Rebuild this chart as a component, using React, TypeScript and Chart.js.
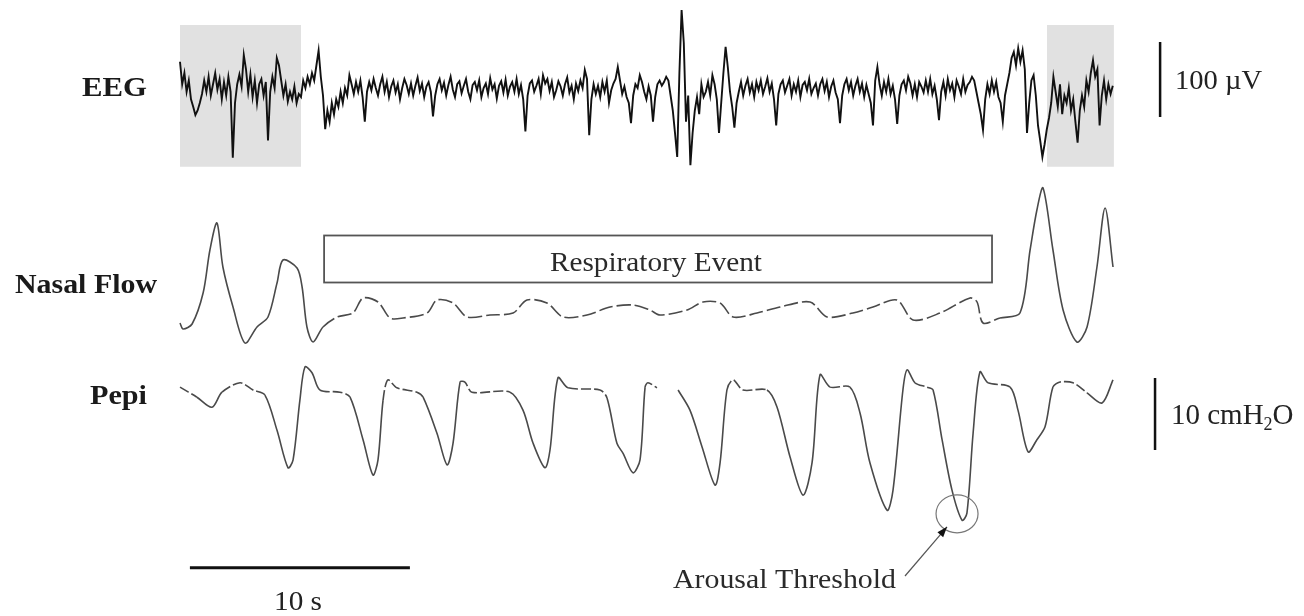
import React, { useEffect, useRef } from "react";
import { Chart, registerables } from "chart.js";

Chart.register(...registerables);

// ---------- DATA ----------
// EEG (µV), sampled every eegStep seconds from t = eegStart
const eegStart = 0;
const eegStep = 0.1;
const eegUV = [
  35, 5, 20, -5, 10, -15, -25, -36, -30, -20,
  -8, 10, -5, 15, -10, 5, 20, -2, 12, -15,
  8, -10, 15, -5, -93, -20, 5, 18, 2, 44,
  25, -5, 18, -12, 10, -20, 5, 12, -10, 8,
  -70, -5, 15, 0, 40, 30, 10, -10, 5, -18,
  -5, -15, 2, -20, -8, -12, 10, 0, 15, 5,
  20, 10, 30, 50, 15, -10, -55, -30, -45, -20,
  -35, -15, -25, -5, -20, 0, -10, 17, 5, -8,
  8, -5, 10, -12, -45, -5, 8, -3, 12, 0,
  -10, 5, 15, -5, 8, -12, 2, 10, -6, 5,
  -15, 0, 12, 4, -8, 6, -10, 3, 14, -4,
  6, -12, 2, 8, -5, -38, -10, 5, 12, -3,
  7, -10, 4, 15, -2, -12, 5, 9, -7, 3,
  12, -5, -15, 4, 8, -3, 10, -12, 0, 6,
  -8, 13, -2, 5, -14, 3, 9, -6, 11, -10,
  2, 8, -5, 12, -8, 4, -15, -58, -10, 6,
  10, -5, 3, 12, -8, 17, 6, 12, -4, 8,
  -12, -3, 9, 2, -10, 5, 14, -6, 3, -15,
  6, -4, 10, 0, 24, 12, -63, -15, 5, -8,
  3, -12, 8, -5, 10, -20, -3, 6, 12, 28,
  10, -8, 2, -12, -20, -47, -10, 5, 0, 17,
  8, -5, -15, 2, -10, -45, -12, 5, 10, 3,
  8, 15, 10, -10, -30, -60, -92, 20, 104, 60,
  -45, -10, -103, -60, -30, -12, -35, 5, -12, -5,
  8, -10, 17, 5, -15, -60, -20, 20, 55, 28,
  -5, -25, -53, -20, -5, 8, -10, 3, 12, -6,
  5, -12, 8, -3, 10, -8, 2, 13, -5, 6,
  -15, -50, -8, 5, 10, -6, 3, 12, -10, 5,
  -5, 10, -12, 4, 8, -3, 12, -8, 0, 6,
  -10, 5, 12, -4, 8, -12, 2, 10, -6, -15,
  -47, -10, 5, 12, -3, 8, -10, 3, 12, -5,
  6, -12, 4, -8, -20, -50, 10, 28, 5, -10,
  8, -5, 12, -8, 3, -15, -48, -10, 5, 10,
  -3, 15, 6, -10, 5, -12, 8, 2, -6, 10,
  -5, 12, -8, 3, -15, -43, -5, 8, -10, 12,
  -3, 6, -12, 10, 2, -8, 12, -5, 4, 8,
  15, 10, -5, -20, -35, -56, -15, 5, -8, 10,
  -5, 8, -12, -20, -45, -10, 5, 20, 40, 48,
  30, 53, 35, 50, 25, -60, -20, 10, 17, -10,
  -50, -70, -92, -75, -55, -40, -20, 15, -5, -25,
  5, -35, -10, -20, 0, -30, -15, -45, -73, -30,
  -10, -25, 10, -5, 20, 37, 15, 25, -50, -10,
  10, -15, 5, -8, 3,
];

// Nasal flow (arbitrary units)
const flowTime = [
  0.0, 0.14, 0.55, 1.05, 1.36, 1.68, 1.95, 2.41, 2.95, 3.5, 4.0, 4.41, 4.68, 5.32, 5.55, 5.77,
  6.05, 6.5, 7.14, 7.86, 8.32, 9.0, 9.55, 10.14, 11.23, 11.68, 12.41, 13.05, 14.09, 15.14, 15.77,
  16.68, 17.41, 18.5, 19.55, 20.59, 21.36, 21.82, 23.05, 23.77, 24.55, 25.14, 26.23, 27.27, 28.64,
  29.41, 30.59, 31.5, 32.59, 33.32, 34.55, 35.91, 36.23, 36.5, 37.27, 38.18, 38.64, 38.95, 39.23,
  39.68, 40.14, 40.77, 41.23, 41.68, 42.05, 42.41,
];
const flowValue = [
  -0.3, -0.9, -0.4, 2.7, 7.0, 9.7, 5.3, 1.3, -2.3, -0.7, 0.3, 3.7, 6.0, 5.2, 3.3, -0.7,
  -2.2, -0.7, 0.3, 0.7, 2.2, 1.8, 0.2, 0.2, 0.7, 2.0, 1.7, 0.3, 0.5, 0.7, 2.0,
  1.7, 0.3, 0.5, 1.3, 1.5, 1.0, 0.5, 1.0, 1.8, 1.7, 0.3, 0.7, 1.3, 1.8,
  0.3, 0.7, 1.3, 2.0, 0.0, 0.7, 2.2, 1.8, -0.3, 0.2, 0.7, 7.0, 11.0, 13.2,
  7.0, 1.0, -2.2, -0.7, 5.3, 11.2, 5.3,
];

// Epiglottic pressure (cmH2O); null = gap in the recording
const pepiTime = [
  0.0, 0.77, 1.45, 1.91, 2.73, 3.32, 3.86, 4.41, 4.91, 5.14, 5.45, 5.68, 6.0, 6.36, 7.27, 7.73,
  8.32, 8.77, 9.0, 9.23, 9.45, 9.86, 10.77, 11.05, 11.68, 12.14, 12.41, 12.73, 12.95, 13.27, 15.0,
  15.59, 16.05, 16.59, 16.82, 17.18, 17.64, 19.09, 19.41, 19.86, 20.14, 20.59, 20.91, 21.14, 21.27,
  21.68, 22.2, 22.64, 23.18, 23.73, 24.32, 24.55, 24.86, 25.14, 25.59, 26.68, 27.14, 27.73, 28.32,
  28.73, 29.09, 29.55, 30.45, 30.91, 31.36, 32.14, 32.41, 32.86, 33.05, 33.41, 33.95, 34.23, 34.64,
  35.09, 35.55, 35.77, 36.05, 36.36, 36.73, 37.73, 38.09, 38.55, 38.95, 39.32, 39.68, 40.0, 40.59,
  41.23, 41.91, 42.41,
];
const pepiValue = [
  0.4, -1.0, -2.4, -0.3, 1.0, 0.0, -0.7, -5.6, -10.8, -9.7, -1.4, 3.2, 2.4, 0.0, -0.3, -1.0,
  -6.9, -11.8, -9.7, -1.4, 1.4, 0.3, -0.3, -1.0, -6.0, -10.4, -7.4, 1.1, 1.1, -0.3, -0.3,
  -2.8, -7.4, -10.8, -8.3, 1.7, 0.3, 0.0, -1.1, -7.4, -8.8, -11.5, -9.7, 0.4, 1.0,
  0.3, null, 0.0, -2.8, -7.9, -13.2, -10.1, 0.0, 1.4, 0.0, 0.0, -2.4, -9.3, -14.6,
  -10.1, 2.1, 0.4, 0.4, -3.2, -10.1, -16.7, -13.9, 0.0, 2.8, 1.0, 0.4, 0.0, -6.9,
  -13.9, -18.1, -17.1, -6.0, 2.5, 1.0, 0.4, -2.8, -8.6, -6.9, -5.1, 0.4, 1.1, 1.0,
  -0.4, -1.8, 1.4,
];

// Text
const traceLabels = ["EEG", "Nasal Flow", "Pepi"];
const eventLabel = "Respiratory Event";
const arousalLabel = "Arousal Threshold";
const eegBarLabel = "100 µV";
const timeBarLabel = "10 s";

// Annotation values (in data units)
const eegShadeFrom = [0, 39.41];
const eegShadeTo = [5.5, 42.45];
const eventFrom = 6.55;
const eventTo = 36.91;
const eegBarUV = 100;
const pepiBarCm = 10;
const timeBarSec = 10;
const arousalTime = 35.32;
const arousalValue = -17.2;

// ---------- LAYOUT (scale ranges) ----------
const X_MIN = -180 / 22;
const X_MAX = (1304 - 180) / 22;

const SERIF = '"Liberation Serif", "Times New Roman", Times, serif';

function fitText(
  ctx: CanvasRenderingContext2D,
  text: string,
  x: number,
  y: number,
  size: number,
  width: number,
  bold: boolean
) {
  ctx.save();
  ctx.font = `${bold ? "bold " : ""}${size}px ${SERIF}`;
  const w = ctx.measureText(text).width;
  ctx.translate(x, y);
  ctx.scale(width / w, 1);
  ctx.textAlign = "left";
  ctx.textBaseline = "alphabetic";
  ctx.fillText(text, 0, 0);
  ctx.restore();
}

const annotationPlugin = {
  id: "physioAnnotations",
  beforeDatasetsDraw(chart: any) {
    const ctx: CanvasRenderingContext2D = chart.ctx;
    const x = chart.scales.x;
    const yE = chart.scales.yEEG;
    ctx.save();
    ctx.fillStyle = "#e1e1e1";
    for (let i = 0; i < eegShadeFrom.length; i++) {
      const x0 = x.getPixelForValue(eegShadeFrom[i]);
      const x1 = x.getPixelForValue(eegShadeTo[i]);
      const y0 = yE.getPixelForValue(84);
      const y1 = yE.getPixelForValue(-105);
      ctx.fillRect(x0, y0, x1 - x0, y1 - y0);
    }
    ctx.restore();
  },
  afterDatasetsDraw(chart: any) {
    const ctx: CanvasRenderingContext2D = chart.ctx;
    const x = chart.scales.x;
    const yE = chart.scales.yEEG;
    const yF = chart.scales.yFlow;
    const yP = chart.scales.yPepi;
    ctx.save();

    // Respiratory event box
    const bx0 = x.getPixelForValue(eventFrom);
    const bx1 = x.getPixelForValue(eventTo);
    const by0 = yF.getPixelForValue(8.45);
    const by1 = yF.getPixelForValue(3.75);
    ctx.strokeStyle = "#555";
    ctx.lineWidth = 1.8;
    ctx.strokeRect(bx0, by0, bx1 - bx0, by1 - by0);
    ctx.fillStyle = "#2a2a2a";
    fitText(ctx, eventLabel, 550, 271, 28, 212, false);

    // Trace labels
    ctx.fillStyle = "#1a1a1a";
    fitText(ctx, traceLabels[0], 82, 96, 27, 65, true);
    fitText(ctx, traceLabels[1], 15, 293, 27, 142, true);
    fitText(ctx, traceLabels[2], 90, 404, 27, 57, true);

    // EEG scale bar
    ctx.strokeStyle = "#111";
    ctx.lineWidth = 2.5;
    const ex = x.getPixelForValue(44.55);
    ctx.beginPath();
    ctx.moveTo(ex, yE.getPixelForValue(61.3));
    ctx.lineTo(ex, yE.getPixelForValue(61.3 - eegBarUV));
    ctx.stroke();
    ctx.fillStyle = "#222";
    fitText(ctx, eegBarLabel, 1175, 89, 28, 87, false);

    // Pepi scale bar
    const px = x.getPixelForValue(44.32);
    ctx.beginPath();
    ctx.moveTo(px, yP.getPixelForValue(1.67));
    ctx.lineTo(px, yP.getPixelForValue(1.67 - pepiBarCm));
    ctx.stroke();
    // "10 cmH2O" with subscript
    ctx.textBaseline = "alphabetic";
    ctx.textAlign = "left";
    ctx.font = `29px ${SERIF}`;
    const part1 = `${pepiBarCm} cmH`;
    const w1 = ctx.measureText(part1).width;
    ctx.fillText(part1, 1171, 424);
    ctx.font = `18px ${SERIF}`;
    ctx.fillText("2", 1171 + w1, 430);
    const w2 = ctx.measureText("2").width;
    ctx.font = `29px ${SERIF}`;
    ctx.fillText("O", 1171 + w1 + w2, 424);

    // Time scale bar
    const ty = yP.getPixelForValue(-24.7);
    ctx.lineWidth = 3;
    ctx.beginPath();
    ctx.moveTo(x.getPixelForValue(0.45), ty);
    ctx.lineTo(x.getPixelForValue(0.45 + timeBarSec), ty);
    ctx.stroke();
    fitText(ctx, timeBarLabel, 274, 610, 27, 48, false);

    // Arousal threshold circle + arrow + label
    const cx = x.getPixelForValue(arousalTime);
    const cy = yP.getPixelForValue(arousalValue);
    ctx.strokeStyle = "#777";
    ctx.lineWidth = 1.2;
    ctx.beginPath();
    ctx.ellipse(cx, cy, 21, 19, 0, 0, Math.PI * 2);
    ctx.stroke();

    const ax0 = 905, ay0 = 576;
    const ax1 = cx - 10, ay1 = cy + 13;
    ctx.strokeStyle = "#555";
    ctx.lineWidth = 1.2;
    ctx.beginPath();
    ctx.moveTo(ax0, ay0);
    ctx.lineTo(ax1, ay1);
    ctx.stroke();
    const ang = Math.atan2(ay1 - ay0, ax1 - ax0);
    ctx.fillStyle = "#111";
    ctx.beginPath();
    ctx.moveTo(ax1, ay1);
    ctx.lineTo(ax1 - 11 * Math.cos(ang - 0.35), ay1 - 11 * Math.sin(ang - 0.35));
    ctx.lineTo(ax1 - 11 * Math.cos(ang + 0.35), ay1 - 11 * Math.sin(ang + 0.35));
    ctx.closePath();
    ctx.fill();

    ctx.fillStyle = "#2a2a2a";
    fitText(ctx, arousalLabel, 673, 588, 28, 223, false);

    ctx.restore();
  },
};

export default function App() {
  const ref = useRef<HTMLCanvasElement | null>(null);

  useEffect(() => {
    document.body.style.margin = "0";
    document.body.style.overflow = "hidden";
    const canvas = ref.current;
    if (!canvas) return;

    const eegData = eegUV.map((v, i) => ({ x: eegStart + i * eegStep, y: v }));
    const flowData = flowTime.map((t, i) => ({ x: t, y: flowValue[i] }));
    const pepiData = pepiTime.map((t, i) => ({ x: t, y: pepiValue[i] }));

    const chart = new Chart(canvas, {
      type: "line",
      data: {
        datasets: [
          {
            label: "EEG",
            data: eegData,
            yAxisID: "yEEG",
            borderColor: "#111111",
            borderWidth: 1.9,
            pointRadius: 0,
            tension: 0,
          },
          {
            label: "Nasal Flow",
            data: flowData,
            yAxisID: "yFlow",
            borderColor: "#4a4a4a",
            borderWidth: 1.6,
            pointRadius: 0,
            tension: 0.3,
            segment: {
              borderDash: (c: any) =>
                c.p0.parsed.x >= 6.5 && c.p1.parsed.x <= 37.3 ? [14, 4] : undefined,
            },
          },
          {
            label: "Pepi",
            data: pepiData,
            yAxisID: "yPepi",
            borderColor: "#4a4a4a",
            borderWidth: 1.6,
            pointRadius: 0,
            tension: 0.3,
            spanGaps: false,
            segment: {
              borderDash: (c: any) =>
                Math.abs(c.p0.parsed.y) < 1.5 && Math.abs(c.p1.parsed.y) < 1.5 ? [10, 3] : undefined,
            },
          },
        ],
      },
      options: {
        animation: false,
        responsive: false,
        devicePixelRatio: 1,
        layout: { padding: 0 },
        plugins: { legend: { display: false }, tooltip: { enabled: false } },
        scales: {
          x: { type: "linear", min: X_MIN, max: X_MAX, display: false },
          yEEG: { type: "linear", min: (88 - 616) / 0.75, max: 88 / 0.75, display: false },
          yFlow: { type: "linear", min: (320 - 616) / 10, max: 320 / 10, display: false },
          yPepi: { type: "linear", min: (390 - 616) / 7.2, max: 390 / 7.2, display: false },
        },
      },
      plugins: [annotationPlugin],
    });

    return () => chart.destroy();
  }, []);

  return (
    <div style={{ width: 1304, height: 616, background: "#fff" }}>
      <canvas ref={ref} width={1304} height={616} style={{ display: "block" }} />
    </div>
  );
}
